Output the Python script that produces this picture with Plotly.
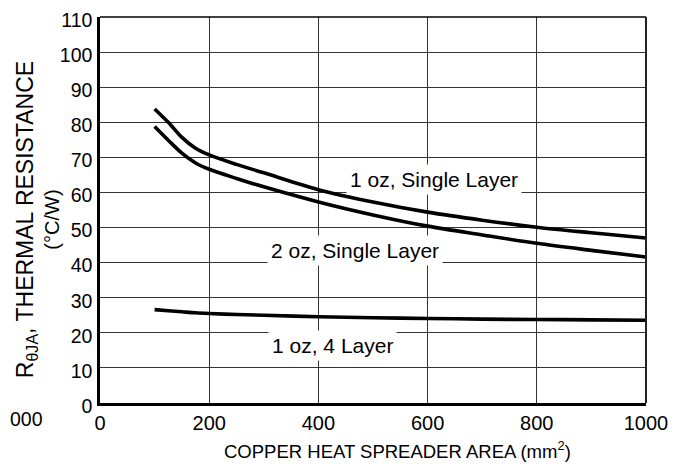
import plotly.graph_objs as go

# Copper heat spreader area (mm^2) and thermal resistance (deg C/W)
area = [100, 125, 150, 175, 200, 250, 300, 400, 500, 600, 700, 800, 900, 1000]
r_1oz_single = [83.8, 80.0, 75.7, 72.6, 70.7, 68.0, 65.6, 60.8, 57.3, 54.4, 52.1, 50.1, 48.5, 47.0]
r_2oz_single = [78.8, 74.9, 71.2, 68.4, 66.6, 64.0, 61.6, 57.3, 53.6, 50.4, 47.9, 45.5, 43.5, 41.6]
r_1oz_4layer = [26.6, 26.3, 26.0, 25.7, 25.5, 25.2, 25.0, 24.6, 24.3, 24.1, 23.9, 23.8, 23.7, 23.6]

labels = ["1 oz, Single Layer", "2 oz, Single Layer", "1 oz, 4 Layer"]
label_x = [612, 467, 425]
label_y = [63.8, 43.6, 16.5]

x_title = "COPPER HEAT SPREADER AREA (mm<sup>2</sup>)"
y_title = ('<span style="font-size:23px">R<sub>θJA</sub>, THERMAL RESISTANCE</span>'
           '<br>(°C/W)')

FONT = "Liberation Sans, Arial, sans-serif"

fig = go.Figure()
for ys in (r_1oz_single, r_2oz_single, r_1oz_4layer):
    fig.add_trace(go.Scatter(x=area, y=ys, mode="lines",
                             line=dict(color="black", width=3.6, shape="spline", smoothing=0.9)))

for txt, lx, ly in zip(labels, label_x, label_y):
    fig.add_annotation(x=lx, y=ly, text=txt, showarrow=False,
                       font=dict(size=21, color="black", family=FONT),
                       bgcolor="white", borderpad=3)

# axis titles as annotations (the x title sits right of centre in the original)
fig.add_annotation(xref="paper", yref="paper", x=0.544, y=-0.122, text=x_title,
                   showarrow=False, xanchor="center", yanchor="middle",
                   font=dict(size=18.5, color="black", family=FONT))
fig.add_annotation(xref="paper", yref="paper", x=-0.115, y=0.474, text=y_title,
                   showarrow=False, textangle=-90, xanchor="center", yanchor="middle",
                   font=dict(size=20, color="black", family=FONT))

# stray label cut off at the left edge of the source image
fig.add_annotation(xref="paper", yref="paper", x=-92 / 546, y=-0.041,
                   xanchor="left", yanchor="middle", text="000", showarrow=False,
                   font=dict(size=19.5, color="black", family=FONT))

# top and right frame lines
fig.add_shape(type="line", xref="paper", yref="paper", x0=0, x1=1, y0=1, y1=1,
              line=dict(color="black", width=1.5))
fig.add_shape(type="line", xref="paper", yref="paper", x0=1, x1=1, y0=0, y1=1,
              line=dict(color="#222", width=2))

fig.update_xaxes(range=[0, 1000], tick0=0, dtick=200, showgrid=True,
                 gridcolor="#333", gridwidth=1.2, zeroline=False,
                 showline=True, linecolor="black", linewidth=2.5,
                 ticklabelstandoff=0, automargin=False, ticklabeloverflow="allow",
                 tickfont=dict(size=20, color="black", family=FONT))

fig.update_yaxes(range=[0, 110], tick0=0, dtick=10, showgrid=True,
                 gridcolor="#333", gridwidth=1.2, zeroline=False,
                 showline=True, linecolor="black", linewidth=2.5,
                 ticklabelstandoff=1, ticklabelshift=3, automargin=False,
                 ticklabeloverflow="allow",
                 tickfont=dict(size=19.5, color="black", family=FONT))

fig.update_layout(showlegend=False, template="none",
                  width=682, height=470,
                  margin=dict(l=92, r=44, t=9, b=75),
                  plot_bgcolor="white", paper_bgcolor="white")

fig.write_html("out.html")
